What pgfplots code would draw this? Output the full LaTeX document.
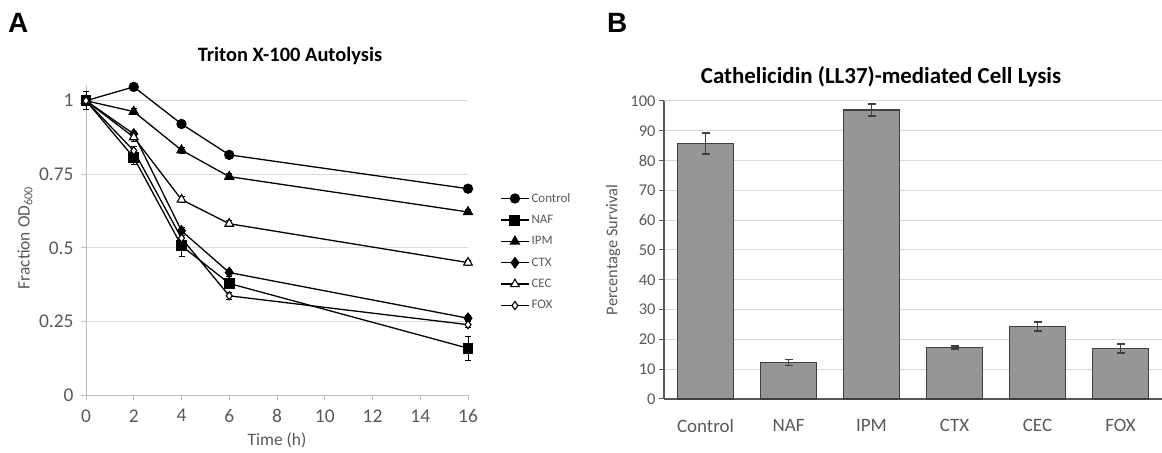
\documentclass[border=0pt]{standalone}
\usepackage{pgfplots}
\pgfplotsset{compat=1.18}
\usepackage{fontspec}
\setmainfont{Carlito}
\newfontfamily\panelfont{Liberation Sans}
\definecolor{txt}{HTML}{595959}
\definecolor{gridc}{HTML}{D9D9D9}
\definecolor{axA}{HTML}{BFBFBF}
\definecolor{axB}{HTML}{595959}
\definecolor{barfill}{HTML}{969696}
\definecolor{bardraw}{HTML}{404040}
\begin{document}
\begin{tikzpicture}
\path[use as bounding box] (0bp,0bp) rectangle (1162bp,453bp);
% panel letters and titles
\node[anchor=base west,inner sep=0pt] at (8bp,420bp) {\panelfont\bfseries\fontsize{28}{30}\selectfont A};
\node[anchor=base west,inner sep=0pt] at (607bp,420bp) {\panelfont\bfseries\fontsize{28}{30}\selectfont B};
\node[inner sep=0pt] at (290bp,397bp) {\bfseries\fontsize{20.5}{22}\selectfont Triton X-100 Autolysis};
\node[inner sep=0pt] at (881bp,376bp) {\bfseries\fontsize{23}{25}\selectfont Cathelicidin (LL37)-mediated Cell Lysis};
\node[inner sep=0pt] at (277bp,13bp) {\color{txt}\fontsize{17.5}{19}\selectfont Time (h)};
\node[inner sep=0pt,rotate=90] at (25bp,215bp) {\color{txt}\fontsize{17.5}{19}\selectfont Fraction OD\textsubscript{600}};
\node[inner sep=0pt,rotate=90] at (613bp,203bp) {\color{txt}\fontsize{16.5}{18}\selectfont Percentage Survival};

% ---------------- Panel A ----------------
\begin{axis}[
  at={(86bp,58bp)}, anchor=south west,
  scale only axis, width=382bp, height=309bp,
  xmin=0, xmax=16, ymin=0, ymax=1.05,
  xtick={0,2,4,6,8,10,12,14,16},
  ytick={0,0.25,0.5,0.75,1},
  axis lines*=left,
  axis line style={-,color=axA,line width=1bp},
  tick align=outside, major tick length=5bp,
  tick style={color=axA,line width=1bp},
  ymajorgrids, grid style={color=gridc,line width=1bp},
  /pgf/number format/assume math mode=true,
  ticklabel style={color=txt,font=\fontsize{19.5}{21}\selectfont},
  xticklabel style={yshift=-6bp},
  yticklabel style={xshift=-4bp},
  clip=false,
  legend style={draw=none,fill=none,at={(1.084,0.66)},anchor=north west,
    font=\fontsize{13}{15}\selectfont\color{txt},
    row sep=7.5bp, inner sep=0pt, cells={anchor=west}},
  legend image code/.code={\draw[mark repeat=2,mark phase=2,#1] plot coordinates {(0bp,0bp) (14bp,0bp) (28bp,0bp)};},
  error bars/error bar style={black,line width=0.8bp,solid},
  error bars/error mark options={black,rotate=90,mark size=3bp,line width=0.8bp,solid},
]
\addplot[black,solid,line width=1.3bp,mark=*,mark size=4.5bp,mark options={fill=black,draw=black,solid},error bars/.cd,y dir=both,y explicit]
 coordinates {(0,1) +- (0,0.01) (2,1.047) +- (0,0.005) (4,0.921) +- (0,0.008) (6,0.816) +- (0,0.008) (16,0.701) +- (0,0.008)};
\addlegendentry{Control}
\addplot[black,solid,line width=1.3bp,mark=square*,mark size=4.8bp,mark options={fill=black,draw=black,solid},error bars/.cd,y dir=both,y explicit]
 coordinates {(0,1) +- (0,0.03) (2,0.807) +- (0,0.025) (4,0.507) +- (0,0.035) (6,0.379) +- (0,0.015) (16,0.159) +- (0,0.04)};
\addlegendentry{NAF}
\addplot[black,solid,line width=1.3bp,mark=triangle*,mark size=5bp,mark options={fill=black,draw=black,solid},error bars/.cd,y dir=both,y explicit]
 coordinates {(0,1) +- (0,0.01) (2,0.963) +- (0,0.01) (4,0.832) +- (0,0.01) (6,0.742) +- (0,0.01) (16,0.622) +- (0,0.008)};
\addlegendentry{IPM}
\addplot[black,solid,line width=1.3bp,mark=diamond*,mark size=5bp,mark options={fill=black,draw=black,solid},error bars/.cd,y dir=both,y explicit]
 coordinates {(0,1) +- (0,0.01) (2,0.887) +- (0,0.01) (4,0.558) +- (0,0.01) (6,0.416) +- (0,0.012) (16,0.261) +- (0,0.008)};
\addlegendentry{CTX}
\addplot[black,solid,line width=1.3bp,mark=triangle*,mark size=5bp,mark options={fill=white,draw=black,line width=1.1bp,solid},error bars/.cd,y dir=both,y explicit]
 coordinates {(0,1) +- (0,0.01) (2,0.876) +- (0,0.015) (4,0.664) +- (0,0.01) (6,0.582) +- (0,0.01) (16,0.450) +- (0,0.008)};
\addlegendentry{CEC}
\addplot[black,solid,line width=1.3bp,mark=diamond*,mark size=4bp,mark options={fill=white,draw=black,line width=1.1bp,solid},error bars/.cd,y dir=both,y explicit]
 coordinates {(0,1) +- (0,0.01) (2,0.830) +- (0,0.015) (4,0.533) +- (0,0.02) (6,0.337) +- (0,0.012) (16,0.239) +- (0,0.01)};
\addlegendentry{FOX}
\end{axis}

% ---------------- Panel B ----------------
\begin{axis}[
  at={(664bp,54bp)}, anchor=south west,
  scale only axis, width=498bp, height=298bp,
  xmin=-0.5, xmax=5.5, ymin=0, ymax=100,
  xtick={0,1,2,3,4,5},
  xticklabels={Control,NAF,IPM,CTX,CEC,FOX},
  ytick={0,10,...,100},
  axis lines*=left,
  axis line style={-,color=axB,line width=1.3bp},
  tick align=outside, major tick length=5bp,
  ytick style={color=axB,line width=1bp},
  xtick style={draw=none},
  ymajorgrids, grid style={color=gridc,line width=1bp},
  /pgf/number format/assume math mode=true,
  yticklabel style={color=txt,font=\fontsize{16.5}{18}\selectfont},
  xticklabel style={color=txt,font=\fontsize{19}{21}\selectfont,yshift=-12bp},
  clip=false,
]
\addplot[ybar,bar width=56bp,fill=barfill,draw=bardraw,line width=1.5bp,
  error bars/.cd,y dir=both,y explicit,
  error bar style={color=bardraw,line width=1.5bp},
  error mark options={rotate=90,mark size=4bp,line width=1.5bp,color=bardraw}]
 coordinates {(0,85.7) +- (0,3.5) (1,12.2) +- (0,1.0) (2,97.0) +- (0,2.0) (3,17.3) +- (0,0.5) (4,24.3) +- (0,1.5) (5,17.0) +- (0,1.5)};
\end{axis}
\end{tikzpicture}
\end{document}
